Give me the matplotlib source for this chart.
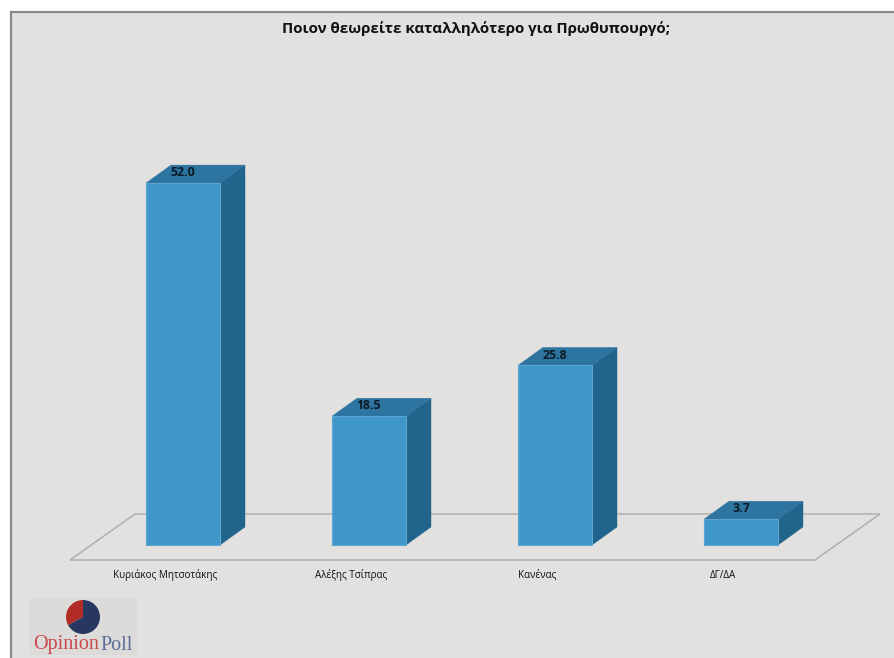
## Importing necessary libraries ##

import matplotlib
matplotlib.use('Agg')
import matplotlib.pyplot as plt
from matplotlib.patches import Polygon, Rectangle

## Chart data ##

categories = ['Κυριάκος Μητσοτάκης', 'Αλέξης Τσίπρας', 'Κανένας', 'ΔΓ/ΔΑ']
values = [52.0, 18.5, 25.8, 3.7]
value_labels = ['52.0', '18.5', '25.8', '3.7']
title_text = 'Ποιον θεωρείτε καταλληλότερο για Πρωθυπουργό;'
logo_shares = [33, 67]

## Scale of the picture: pixels per category and per unit of value ##

W, H = 894, 658
px_x = 186.0
px_y = 6.96
x0 = 183.0
y0 = 545.0

bar_w = 74 / px_x
dx = 25 / px_x
dy = 18 / px_y
label_shift = 18 / px_x

front_col = '#3f97c9'
side_col = '#21648c'
top_col = '#2e74a0'
bg_col = '#e2e1df'
frame_col = '#8a8a8a'


def to_x(p):
    return (p - x0) / px_x


def to_y(p):
    return (y0 - p) / px_y


plt.rcParams['font.family'] = ['Open Sans', 'DejaVu Sans']

fig = plt.figure(figsize=(W / 100, H / 100), dpi=100, facecolor='white')
ax = fig.add_axes([0, 0, 1, 1])
ax.set_xlim(to_x(0), to_x(W))
ax.set_ylim(to_y(H), to_y(0))
ax.axis('off')

## Background panel and floor ##

ax.add_patch(Rectangle((to_x(11), to_y(H + 5)), (W + 5 - 11) / px_x, (H + 5 - 12) / px_y,
                       facecolor=bg_col, edgecolor=frame_col, linewidth=1.6, zorder=0))

floor = [(70, 560), (815, 560), (880, 514), (135, 514)]
ax.add_patch(Polygon([(to_x(a), to_y(b)) for a, b in floor], closed=True, fill=False,
                     edgecolor='#b0afad', linewidth=1.1, zorder=1))

## Bars drawn as a front, a side and a top ##

for i, v in enumerate(values):
    left = i - bar_w / 2
    right = i + bar_w / 2
    ax.add_patch(Polygon([(right, 0), (right + dx, dy), (right + dx, v + dy), (right, v)],
                         facecolor=side_col, edgecolor=side_col, linewidth=0.3, zorder=2))
    ax.add_patch(Polygon([(left, v), (right, v), (right + dx, v + dy), (left + dx, v + dy)],
                         facecolor=top_col, edgecolor=top_col, linewidth=0.3, zorder=2))
    ax.add_patch(Rectangle((left, 0), bar_w, v, facecolor=front_col,
                           edgecolor='#5ea6d0', linewidth=0.8, zorder=3))
    ax.text(i, v + dy / 2 + 0.2, value_labels[i], ha='center', va='center',
            fontsize=8.8, fontweight='bold', color='#0c1a26', zorder=4)
    ax.text(i - label_shift, to_y(575), categories[i],
            ha='center', va='center', fontsize=7.1, color='#111111', zorder=4)

ax.text(to_x(476), to_y(29), title_text, ha='center', va='center', fontsize=10.9,
        fontweight='bold', color='#111111')

## Logo in the lower left corner ##

ax.add_patch(Rectangle((to_x(29), to_y(655)), 108 / px_x, 57 / px_y,
                       facecolor='#dcdbda', edgecolor='none', zorder=1))
ax.text(to_x(33), to_y(645), 'Opinion', ha='left', va='center', fontsize=14.5,
        family=['Liberation Serif', 'DejaVu Serif'], color='#c8474a', zorder=2)
ax.text(to_x(100), to_y(645), 'Poll', ha='left', va='center', fontsize=14.5,
        family=['Liberation Serif', 'DejaVu Serif'], color='#5a6c94', zorder=2)

pie_ax = fig.add_axes([66 / W, 1 - 634 / H, 34 / W, 34 / H])
pie_ax.pie(logo_shares, colors=['#b32d26', '#28375f'], startangle=90, radius=1.0)
pie_ax.set_xlim(-1, 1)
pie_ax.set_ylim(-1, 1)
pie_ax.set_aspect('equal')

fig.savefig('out.png', dpi=100, facecolor='white')
